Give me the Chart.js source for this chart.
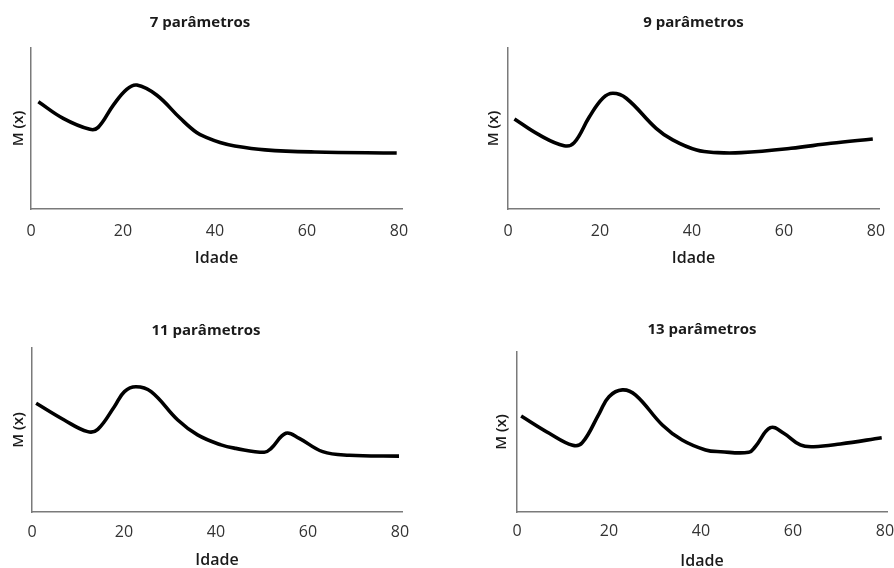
<!DOCTYPE html>
<html>
<head>
<meta charset="utf-8">
<script src="https://cdn.jsdelivr.net/npm/chart.js@4"></script>
<style>
  html, body { margin: 0; padding: 0; background: #fff; }
  body { position: relative; width: 894px; height: 568px; overflow: hidden; }
  .painel { position: absolute; }
</style>
</head>
<body>
<div class="painel" id="p7"><canvas id="c7"></canvas></div>
<div class="painel" id="p9"><canvas id="c9"></canvas></div>
<div class="painel" id="p11"><canvas id="c11"></canvas></div>
<div class="painel" id="p13"><canvas id="c13"></canvas></div>
<script>
// === DADOS (M(x) em escala relativa 0-100) ===
const xTicks = [0, 20, 40, 60, 80];

const idade7 = [1.6, 7.0, 12.8, 14.6, 17.9, 20.8, 23.0, 27.3, 32.4, 36.0, 38.5, 41.1, 44.3, 50.9, 61.7, 79.5];
const m7 = [66.6, 56.3, 49.5, 50.7, 64.5, 74.3, 77.0, 70.8, 56.5, 47.5, 44.0, 41.3, 39.1, 36.7, 35.4, 34.8];

const idade9 = [1.4, 6.8, 12.2, 14.4, 17.7, 20.6, 22.8, 25.7, 32.2, 35.8, 41.0, 45.6, 50.7, 61.5, 70.2, 79.3];
const m9 = [55.9, 46.0, 39.3, 41.2, 57.3, 68.8, 71.9, 68.8, 50.1, 42.9, 36.6, 35.0, 35.0, 37.7, 40.8, 43.5];

const idade11 = [0.9, 7.0, 12.1, 14.3, 17.9, 20.1, 22.6, 25.9, 31.7, 36.0, 41.1, 44.3, 50.5, 52.0, 55.2, 58.1, 63.2, 69.0, 79.8];
const m11 = [66.3, 56.1, 49.0, 50.4, 64.2, 73.4, 76.4, 73.4, 56.1, 47.0, 40.9, 38.8, 36.4, 38.8, 48.0, 44.9, 36.8, 34.6, 34.1];

const idade13 = [0.9, 7.0, 12.1, 14.2, 17.9, 20.0, 22.9, 25.8, 31.6, 35.9, 41.0, 44.3, 50.4, 51.8, 55.1, 58.0, 61.6, 64.5, 70.3, 79.3];
const m13 = [60.0, 49.2, 41.7, 43.3, 61.7, 72.1, 76.3, 73.1, 54.4, 45.0, 38.8, 37.7, 37.3, 40.8, 52.7, 49.2, 41.9, 40.8, 42.5, 46.4];

const titulos = ["7 parâmetros", "9 parâmetros", "11 parâmetros", "13 parâmetros"];

// === LAYOUT DE CADA PAINEL ===
const paineis = [
  { id: "7", x: idade7, y: m7, titulo: titulos[0], tituloFull: true,
    box: { left: -2, top: 0, width: 422, height: 284 },
    tPad: [14, 16], yW: 33, yTitlePad: 12, xH: 75, xTitlePad: 16, padRight: 18, xMax: 80.65, tickPad: 5 },
  { id: "9", x: idade9, y: m9, titulo: titulos[1], tituloFull: false,
    box: { left: 480, top: 0, width: 422, height: 284 },
    tPad: [14, 16], yW: 28, yTitlePad: 5, xH: 75, xTitlePad: 16, padRight: 23, xMax: 80.65, tickPad: 5 },
  { id: "11", x: idade11, y: m11, titulo: titulos[2], tituloFull: true,
    box: { left: 10, top: 300, width: 412, height: 280 },
    tPad: [22, 8], yW: 22, yTitlePad: 0, xH: 68, xTitlePad: 10, padRight: 20, xMax: 80.45, tickPad: 3 },
  { id: "13", x: idade13, y: m13, titulo: titulos[3], tituloFull: false,
    box: { left: 490, top: 300, width: 414, height: 280 },
    tPad: [21, 13], yW: 27, yTitlePad: 3, xH: 68, xTitlePad: 9, padRight: 17, xMax: 80.45, tickPad: 2 }
];

const fonte = "'Open Sans', 'Noto Sans', sans-serif";
const corEixo = "#7a7a7a";

paineis.forEach(p => {
  const div = document.getElementById("p" + p.id);
  div.style.left = p.box.left + "px";
  div.style.top = p.box.top + "px";
  div.style.width = p.box.width + "px";
  div.style.height = p.box.height + "px";

  const pontos = p.x.map((v, i) => ({ x: v, y: p.y[i] }));

  new Chart(document.getElementById("c" + p.id), {
    type: "line",
    data: {
      datasets: [{
        data: pontos,
        borderColor: "#000",
        borderWidth: 3.6,
        pointRadius: 0,
        fill: false,
        tension: 0.4
      }]
    },
    options: {
      responsive: true,
      maintainAspectRatio: false,
      animation: false,
      layout: { padding: { left: 0, right: p.padRight, top: 0, bottom: 0 } },
      plugins: {
        legend: { display: false },
        tooltip: { enabled: false },
        title: {
          display: true,
          text: p.titulo,
          fullSize: p.tituloFull,
          color: "#1a1a1a",
          font: { family: fonte, size: 15, weight: "bold", lineHeight: 1.2 },
          padding: { top: p.tPad[0], bottom: p.tPad[1] }
        }
      },
      scales: {
        x: {
          type: "linear",
          min: 0,
          max: p.xMax,
          afterFit: s => { s.height = p.xH; },
          afterBuildTicks: s => { s.ticks = xTicks.map(v => ({ value: v })); },
          grid: { display: false },
          border: { display: true, color: corEixo, width: 1.5 },
          ticks: {
            color: "#333",
            padding: p.tickPad,
            maxRotation: 0,
            font: { family: fonte, size: 16 }
          },
          title: {
            display: true,
            text: "Idade",
            color: "#1a1a1a",
            font: { family: fonte, size: 16, weight: "600", lineHeight: 1.2 },
            padding: { top: 0, bottom: p.xTitlePad }
          }
        },
        y: {
          min: 0,
          max: 100,
          afterFit: s => { s.width = p.yW; },
          grid: { display: false },
          border: { display: true, color: corEixo, width: 1.5 },
          ticks: { display: false },
          title: {
            display: true,
            text: "M (x)",
            color: "#1a1a1a",
            font: { family: fonte, size: 15, weight: "600", lineHeight: 1.2 },
            padding: { top: p.yTitlePad, bottom: 0 }
          }
        }
      }
    }
  });
});
</script>
</body>
</html>
